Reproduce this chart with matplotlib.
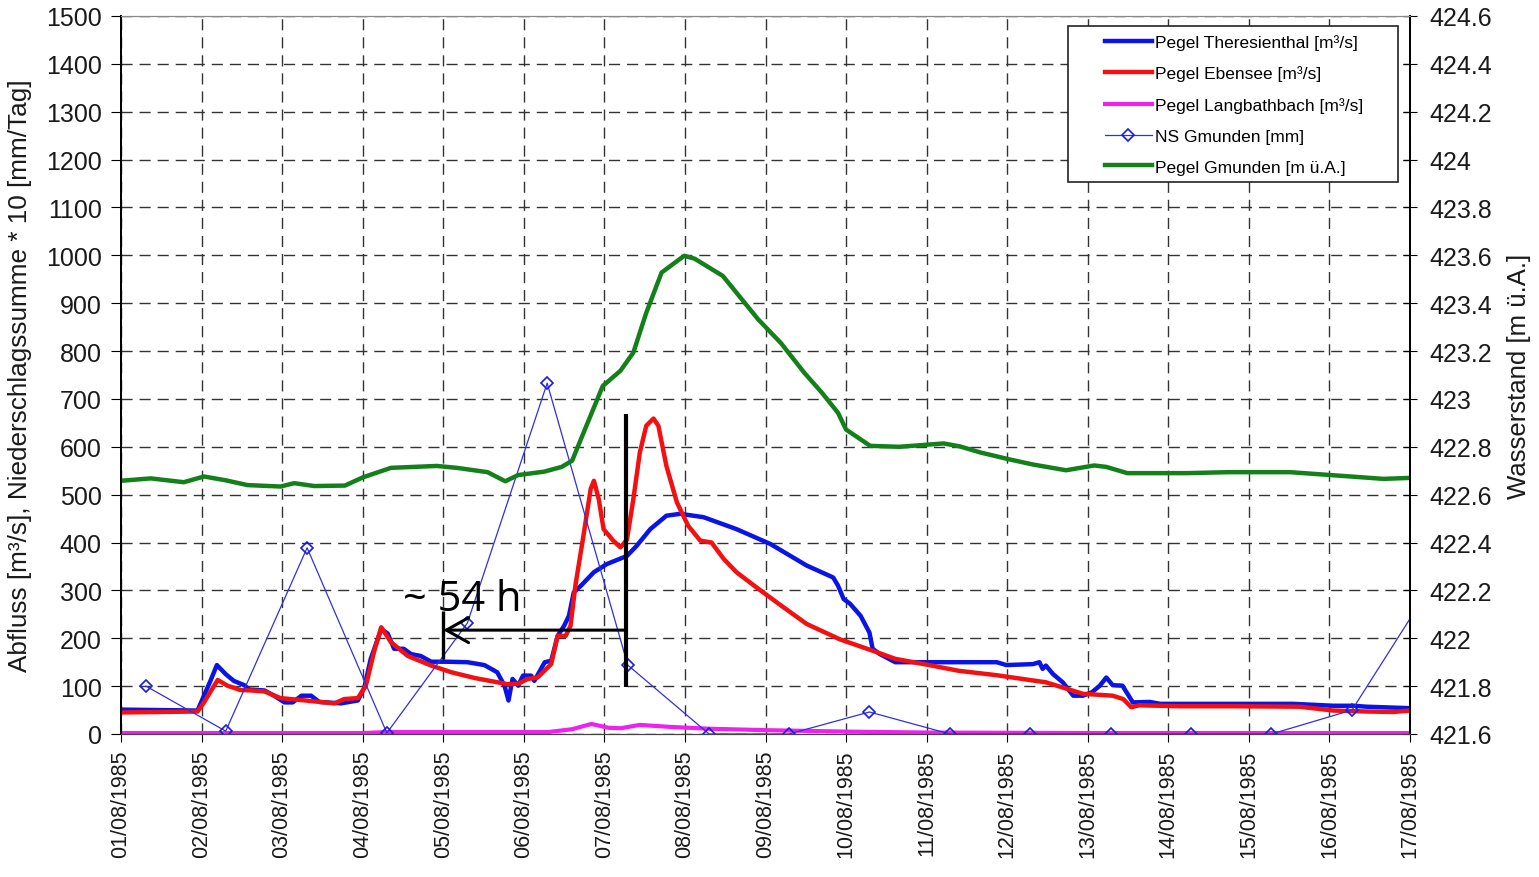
import matplotlib
matplotlib.use("Agg")
import matplotlib.pyplot as plt
from matplotlib.patches import Rectangle

plt.rcParams['font.family'] = ['Liberation Sans', 'DejaVu Sans']

# Tick labels: one per day, x positions are days since 01/08/1985 00:00
date_labels = ["01/08/1985", "02/08/1985", "03/08/1985", "04/08/1985", "05/08/1985",
               "06/08/1985", "07/08/1985", "08/08/1985", "09/08/1985", "10/08/1985",
               "11/08/1985", "12/08/1985", "13/08/1985", "14/08/1985", "15/08/1985",
               "16/08/1985", "17/08/1985"]

# Pegel Theresienthal [m³/s]
theresienthal_t = [0, 0.95, 1.03, 1.11, 1.19, 1.30, 1.40, 1.53, 1.59, 1.78, 1.90, 2.03, 2.13,
                   2.24, 2.36, 2.46, 2.73, 2.94, 3.02, 3.10, 3.23, 3.31, 3.39, 3.51, 3.60, 3.72,
                   3.85, 4.05, 4.30, 4.51, 4.67, 4.76, 4.81, 4.86, 4.93, 4.99, 5.09, 5.13, 5.26,
                   5.34, 5.42, 5.50, 5.56, 5.62, 5.71, 5.87, 6.03, 6.28, 6.40, 6.57, 6.77, 6.94,
                   7.23, 7.64, 8.06, 8.51, 8.84, 8.90, 8.97, 9.05, 9.18, 9.29, 9.33, 9.42, 9.61,
                   10.87, 10.99, 11.32, 11.40, 11.44, 11.48, 11.57, 11.69, 11.82, 11.94, 12.05,
                   12.15, 12.23, 12.31, 12.43, 12.56, 12.77, 12.90, 14.55, 15.05, 15.30, 15.46, 16.0]
theresienthal_q = [51, 49, 80, 111, 144, 125, 111, 102, 93, 91, 80, 66, 66,
                   80, 80, 67, 64, 70, 97, 157, 219, 210, 178, 178, 167, 163,
                   151, 151, 150, 144, 129, 101, 70, 115, 101, 122, 122, 111, 150,
                   153, 205, 226, 247, 296, 310, 338, 355, 372, 393, 428, 456, 460,
                   453, 428, 397, 352, 327, 310, 282, 272, 247, 212, 178, 167, 150,
                   150, 144, 146, 150, 136, 143, 125, 108, 80, 80, 87,
                   101, 118, 102, 101, 66, 67, 63, 63, 59, 59, 57, 54]

# Pegel Ebensee [m³/s]
ebensee_t = [0, 0.95, 1.03, 1.20, 1.32, 1.48, 1.61, 1.78, 1.98, 2.23, 2.65, 2.77, 2.94, 3.04,
             3.14, 3.23, 3.35, 3.56, 3.85, 4.10, 4.39, 4.80, 4.93, 5.05, 5.17, 5.34, 5.42,
             5.52, 5.58, 5.64, 5.74, 5.83, 5.87, 5.93, 5.99, 6.11, 6.20, 6.28, 6.36, 6.44,
             6.52, 6.61, 6.67, 6.77, 6.90, 7.04, 7.19, 7.33, 7.48, 7.64, 7.89, 8.18, 8.51,
             8.92, 9.33, 9.61, 10.03, 10.40, 10.86, 11.48, 11.73, 11.94, 12.31, 12.44, 12.54,
             12.64, 13.14, 13.80, 14.63, 15.05, 15.46, 15.79, 16.0]
ebensee_q = [45, 47, 66, 113, 101, 92, 91, 89, 75, 71, 64, 73, 75, 101,
             171, 223, 192, 163, 143, 129, 117, 104, 105, 115, 118, 146, 205,
             205, 226, 310, 414, 512, 529, 491, 428, 404, 390, 406, 491, 588,
             644, 659, 644, 560, 484, 435, 404, 400, 366, 338, 306, 270, 230,
             198, 174, 157, 144, 132, 123, 108, 95, 84, 80, 73, 56,
             60, 58, 58, 57, 49, 47, 46, 49]

# Pegel Langbathbach [m³/s]
langbath_t = [0, 3.0, 3.3, 5.3, 5.6, 5.84, 6.05, 6.2, 6.44, 6.8, 7.3, 8.0, 9.0, 10.0, 12.0, 16.0]
langbath_q = [2, 2, 4, 4, 10, 21, 13, 12, 19, 15, 11, 8, 5, 3, 2, 2]

# NS Gmunden, daily precipitation sum * 10 [mm/Tag]
ns_t = [0.31, 1.30, 2.31, 3.30, 4.30, 5.29, 6.29, 7.30, 8.29, 9.29, 10.29, 11.28,
        12.29, 13.28, 14.28, 15.28, 16.28]
ns_val = [100, 6, 389, 2, 232, 733, 144, 0, 0, 46, 0, 0, 0, 0, 0, 50, 315]

# Pegel Gmunden, lake level [m ü.A.]
gmunden_t = [0, 0.37, 0.78, 1.03, 1.3, 1.57, 1.98, 2.15, 2.40, 2.78, 3.0, 3.35, 3.92, 4.17,
             4.55, 4.77, 4.93, 5.25, 5.47, 5.60, 5.76, 5.98, 6.20, 6.36, 6.52, 6.71, 6.99,
             7.12, 7.47, 7.91, 8.19, 8.48, 8.70, 8.90, 9.0, 9.30, 9.66, 10.21, 10.41, 10.67,
             11.02, 11.32, 11.73, 12.08, 12.23, 12.49, 13.24, 13.75, 14.51, 15.26, 15.67, 16.0]
gmunden_h = [422.658, 422.668, 422.652, 422.676, 422.660, 422.640, 422.634, 422.648, 422.636,
             422.638, 422.672, 422.712, 422.720, 422.712, 422.694, 422.656, 422.682, 422.696,
             422.716, 422.742, 422.874, 423.054, 423.118, 423.194, 423.360, 423.528, 423.598,
             423.586, 423.514, 423.332, 423.234, 423.110, 423.026, 422.942, 422.872, 422.804,
             422.800, 422.814, 422.802, 422.776, 422.748, 422.726, 422.702, 422.722, 422.716,
             422.690, 422.690, 422.694, 422.694, 422.676, 422.666, 422.670]

# Lag between the precipitation peak and the Ebensee rise
lag_start = 4.0
lag_end = 6.27
lag_level = 217
lag_text = "~ 54 h"

W, H = 1539, 878
fig = plt.figure(figsize=(W / 100, H / 100), dpi=100)
ax = fig.add_axes([121 / W, 1 - 735 / H, 1289 / W, 718 / H])
ax2 = ax.twinx()

grid_kw = dict(color='#333333', lw=1.0, linestyle=(0, (8, 5)))
ax.grid(True, **grid_kw)
ax.set_axisbelow(True)

l_th, = ax.plot(theresienthal_t, theresienthal_q, color='#0a14e6', lw=3.2,
                solid_joinstyle='round', label='Pegel Theresienthal [m³/s]')
l_eb, = ax.plot(ebensee_t, ebensee_q, color='#f21010', lw=3.2,
                solid_joinstyle='round', label='Pegel Ebensee [m³/s]')
l_lb, = ax.plot(langbath_t, langbath_q, color='#f020f0', lw=3.0,
                label='Pegel Langbathbach [m³/s]')
l_ns, = ax.plot(ns_t, ns_val, color='#3030dd', lw=0.9, marker='D', markersize=6.5,
                mfc='none', mec='#1a1ae0', mew=1.2, label='NS Gmunden [mm]')
l_gm, = ax2.plot(gmunden_t, gmunden_h, color='#13801a', lw=3.2,
                 solid_joinstyle='round', label='Pegel Gmunden [m ü.A.]')

# lag annotation
ax.plot([lag_end, lag_end], [98, 668], color='black', lw=3.0, solid_capstyle='butt')
ax.plot([lag_start, lag_start], [157, 257], color='black', lw=2.4, solid_capstyle='butt')
ax.annotate('', xy=(lag_start, lag_level), xytext=(lag_end, lag_level),
            arrowprops=dict(arrowstyle='->,head_length=0.8,head_width=0.45',
                            lw=2.2, color='black', shrinkA=0, shrinkB=0,
                            mutation_scale=20))
ax.text(3.5, 259, lag_text, fontsize=30, family=['Open Sans', 'DejaVu Sans'],
        ha='left', va='baseline', color='black')

ax.set_xlim(0, 16)
ax.set_ylim(0, 1500)
ax2.set_ylim(421.6, 424.6)
ax.set_xticks(range(len(date_labels)))
ax.set_xticklabels(date_labels, rotation=90, fontsize=15.5, color='#1a1a1a')
ax.set_yticks(range(0, 1501, 100))
ax.tick_params(axis='y', labelsize=18, length=7, direction='out', pad=7, labelcolor='#1a1a1a')
ax.tick_params(axis='x', length=6, direction='out', pad=5)
ax2.set_yticks([421.6 + 0.2 * i for i in range(16)])
ax2.set_yticklabels(['421.6', '421.8', '422', '422.2', '422.4', '422.6', '422.8', '423',
                     '423.2', '423.4', '423.6', '423.8', '424', '424.2', '424.4', '424.6'])
ax2.tick_params(axis='y', labelsize=18, length=10, direction='inout', pad=9,
                labelcolor='#1a1a1a')

for a in (ax, ax2):
    a.spines['top'].set_color('#8a8a8a')
    a.spines['left'].set_linewidth(1.3)
    a.spines['right'].set_linewidth(1.3)
    a.spines['bottom'].set_color('#444444')

fig.text(20 / W, 1 - 376 / H, 'Abfluss [m³/s], Niederschlagssumme * 10 [mm/Tag]',
         rotation=90, ha='center', va='center', fontsize=18.8, color='#1a1a1a')
fig.text(1519 / W, 1 - 376 / H, 'Wasserstand [m ü.A.]',
         rotation=90, ha='center', va='center', fontsize=18.5, color='#1a1a1a')

# legend with a plain rectangular frame
fig.patches.append(Rectangle((1068 / W, 1 - 183 / H), 330 / W, 156 / H,
                             transform=fig.transFigure, facecolor='white',
                             edgecolor='#222222', lw=1.2, zorder=5))
leg = fig.legend(handles=[l_th, l_eb, l_lb, l_ns, l_gm], loc='upper left',
                 bbox_to_anchor=(1105 / W, 1 - 35 / H), frameon=False, fontsize=12.5,
                 handlelength=2.7, handletextpad=0.2, labelspacing=0.9,
                 borderpad=0, borderaxespad=0)
leg.set_zorder(6)

fig.savefig('out.png', dpi=100)
